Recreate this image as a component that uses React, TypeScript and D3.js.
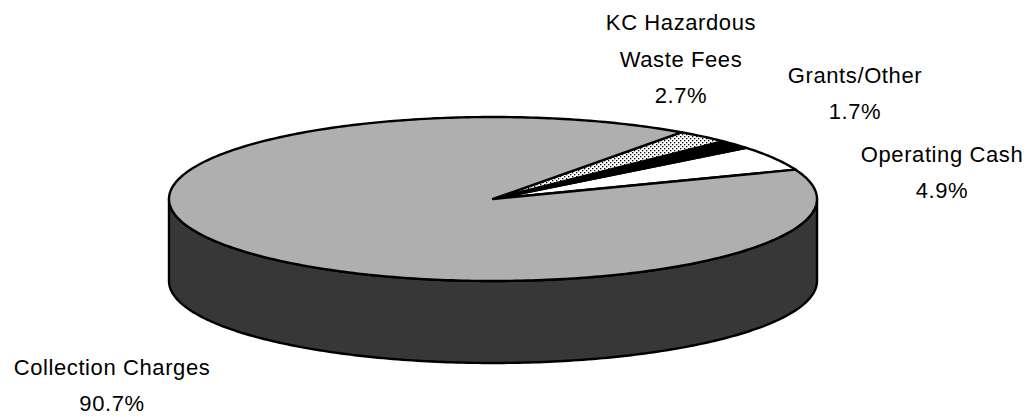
import React from "react";
import * as d3 from "d3";

const categories = ["Operating Cash", "Grants/Other", "KC Hazardous Waste Fees", "Collection Charges"];
const values = [4.9, 1.7, 2.7, 90.7];
const labelLines = [
  ["Operating Cash", "4.9%"],
  ["Grants/Other", "1.7%"],
  ["KC Hazardous", "Waste Fees", "2.7%"],
  ["Collection Charges", "90.7%"],
];
const labelPos = [
  { x: 942, y: 162 },
  { x: 855, y: 83 },
  { x: 681, y: 30 },
  { x: 112, y: 375 },
];
const lineGaps = [36, 36, 36.5, 36];

const W = 1029;
const H = 417;
const cx = 493;
const cy = 199;
const rx = 324;
const ry = 82;
const depth = 82;
const startDeg = 69;

const fills = ["#ffffff", "#000000", "url(#dots)", "#afafaf"];

export default function App() {
  const pie = d3
    .pie<number>()
    .sort(null)
    .value((d) => d)
    .startAngle((startDeg * Math.PI) / 180)
    .endAngle(((startDeg - 360) * Math.PI) / 180);
  const arcs = pie(values);

  const px = (a: number) => cx + rx * Math.sin(a);
  const py = (a: number, dy = 0) => cy - ry * Math.cos(a) + dy;

  const line = d3.line<[number, number]>();

  const slicePath = (a0: number, a1: number) => {
    const n = Math.max(4, Math.ceil(Math.abs(a1 - a0) * 60));
    const pts: [number, number][] = [[cx, cy]];
    for (let i = 0; i <= n; i++) {
      const a = a0 + ((a1 - a0) * i) / n;
      pts.push([px(a), py(a)]);
    }
    return line(pts) + "Z";
  };

  const sidePts: [number, number][] = [];
  const N = 200;
  for (let i = 0; i <= N; i++) {
    const a = Math.PI / 2 + (Math.PI * i) / N;
    sidePts.push([px(a), py(a)]);
  }
  for (let i = N; i >= 0; i--) {
    const a = Math.PI / 2 + (Math.PI * i) / N;
    sidePts.push([px(a), py(a, depth)]);
  }
  const sidePath = line(sidePts) + "Z";

  return (
    <svg
      width={W}
      height={H}
      style={{ position: "absolute", left: 0, top: 0, background: "#fff" }}
    >
      <defs>
        <pattern id="dots" width="4" height="4" patternUnits="userSpaceOnUse">
          <rect width="4" height="4" fill="#fff" />
          <rect x="0" y="0" width="1.3" height="1.3" fill="#000" />
          <rect x="2" y="2" width="1.3" height="1.3" fill="#000" />
        </pattern>
      </defs>
      <path d={sidePath} fill="#373737" stroke="#000" strokeWidth={2.4} strokeLinejoin="round" />
      {arcs.map((a, i) => (
        <path
          key={categories[i]}
          d={slicePath(a.startAngle, a.endAngle)}
          fill={fills[i]}
          stroke="#000"
          strokeWidth={2.4}
          strokeLinejoin="round"
        />
      ))}
      {labelLines.map((lines, i) => (
        <text
          key={"l" + i}
          textAnchor="middle"
          fontFamily="'Liberation Sans', Arial, sans-serif"
          fontSize={22}
          letterSpacing={0.6}
          fill="#000"
        >
          {lines.map((t, j) => (
            <tspan key={j} x={labelPos[i].x} y={labelPos[i].y + j * lineGaps[i]}>
              {t}
            </tspan>
          ))}
        </text>
      ))}
    </svg>
  );
}
